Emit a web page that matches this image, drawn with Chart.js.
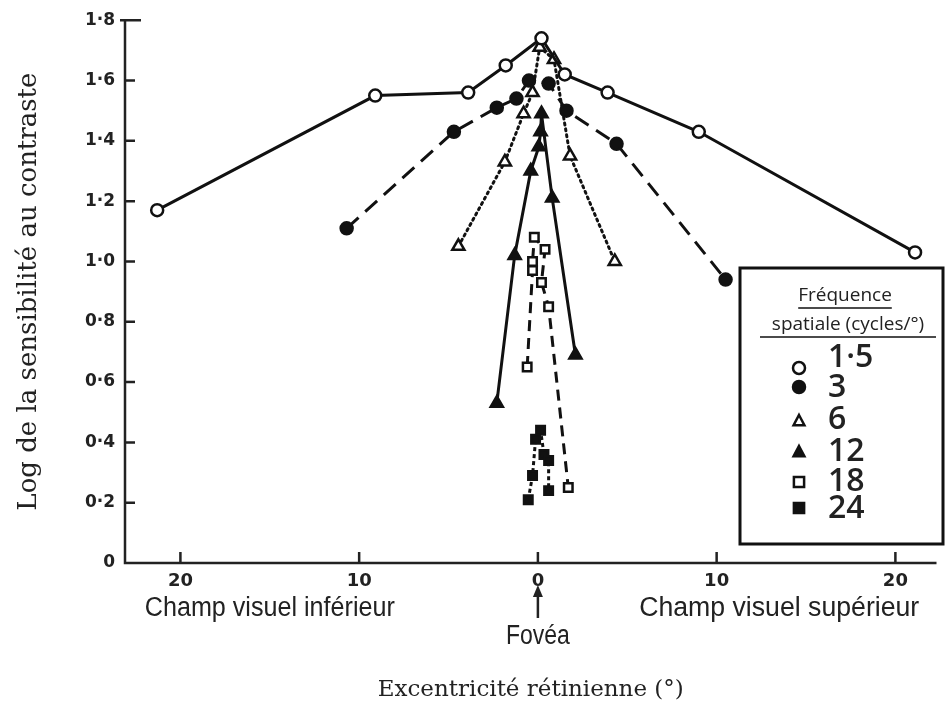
<!DOCTYPE html>
<html>
<head>
<meta charset="utf-8">
<script src="https://cdn.jsdelivr.net/npm/chart.js@4/dist/chart.umd.min.js"></script>
<style>
  html, body { margin: 0; background: #fff; }
  #wrap { width: 946px; height: 715px; }
</style>
</head>
<body>
<div id="wrap"><canvas id="graphe" width="946" height="715"></canvas></div>
<script>
// fréquences spatiales (cycles/°)
const frequences = ['1·5', '3', '6', '12', '18', '24'];
const xTicks = [-20, -10, 0, 10, 20];
const yTicks = [0, 0.2, 0.4, 0.6, 0.8, 1.0, 1.2, 1.4, 1.6, 1.8];

// excentricité (°) / log sensibilité, par fréquence
const f15x = [-21.3, -9.1, -3.9, -1.8, 0.2, 1.5, 3.9, 9.0, 21.1];
const f15y = [1.17, 1.55, 1.56, 1.65, 1.74, 1.62, 1.56, 1.43, 1.03];
const f3x = [-10.7, -4.7, -2.3, -1.2, -0.5, 0.6, 1.6, 4.4, 10.5];
const f3y = [1.11, 1.43, 1.51, 1.54, 1.60, 1.59, 1.50, 1.39, 0.94];
const f6x = [-4.45, -1.85, -0.8, -0.3, 0.1, 0.9, 1.8, 4.3];
const f6y = [1.05, 1.33, 1.49, 1.56, 1.71, 1.67, 1.35, 1.00];
const f12x = [-2.3, -1.3, -0.4, 0.05, 0.15, 0.2, 0.8, 2.1];
const f12y = [0.53, 1.02, 1.30, 1.38, 1.43, 1.49, 1.21, 0.69];
const f18x = [-0.6, -0.3, -0.3, -0.2, 0.4, 0.2, 0.6, 1.7];
const f18y = [0.65, 0.97, 1.00, 1.08, 1.04, 0.93, 0.85, 0.25];
const f24x = [-0.54, -0.3, -0.13, 0.15, 0.34, 0.6, 0.6];
const f24y = [0.21, 0.29, 0.41, 0.44, 0.36, 0.34, 0.24];

const pts = (xs, ys) => xs.map((x, i) => ({x: x, y: ys[i]}));

// style de chaque courbe : symbole, plein/vide, tirets
const styles = [
    {pt: 'circle', fill: false, dash: [], r: 6},
    {pt: 'circle', fill: true, dash: [16, 9], r: 6},
    {pt: 'triangle', fill: false, dash: [2, 4], r: 7},
    {pt: 'triangle', fill: true, dash: [], r: 7},
    {pt: 'rect', fill: false, dash: [11, 7], r: 6},
    {pt: 'rect', fill: true, dash: [4, 3], r: 6}
];
const series = [pts(f15x, f15y), pts(f3x, f3y), pts(f6x, f6y), pts(f12x, f12y), pts(f18x, f18y), pts(f24x, f24y)];

const datasets = series.map((data, i) => ({
    label: frequences[i],
    data: data,
    showLine: true,
    borderColor: '#111',
    borderWidth: 3,
    borderDash: styles[i].dash,
    borderCapStyle: styles[i].dash.length && styles[i].dash[0] < 4 ? 'round' : 'butt',
    pointStyle: styles[i].pt,
    pointRadius: styles[i].r,
    pointBorderWidth: 2.5,
    pointBorderColor: '#111',
    pointBackgroundColor: styles[i].fill ? '#111' : '#fff',
    clip: false
}));

function dessinePoint(ctx, style, x, y, r) {
    ctx.save();
    ctx.lineWidth = 2.5;
    ctx.strokeStyle = '#111';
    ctx.fillStyle = style.fill ? '#111' : '#fff';
    ctx.setLineDash([]);
    ctx.beginPath();
    if (style.pt === 'circle') {
        ctx.arc(x, y, r, 0, Math.PI * 2);
    } else if (style.pt === 'triangle') {
        ctx.moveTo(x, y - r);
        ctx.lineTo(x + r * 0.9, y + r * 0.7);
        ctx.lineTo(x - r * 0.9, y + r * 0.7);
        ctx.closePath();
    } else {
        ctx.rect(x - r * 0.85, y - r * 0.85, r * 1.7, r * 1.7);
    }
    ctx.fill();
    ctx.stroke();
    ctx.restore();
}

// axes avec graduations vers l'intérieur
const axesPlugin = {
    id: 'axes',
    beforeDatasetsDraw(chart) {
        const ctx = chart.ctx;
        const xs = chart.scales.x, ys = chart.scales.y;
        const x0 = xs.left, y0 = ys.getPixelForValue(0);
        ctx.save();
        ctx.strokeStyle = '#222';
        ctx.lineWidth = 2.5;
        ctx.beginPath();
        ctx.moveTo(x0, ys.getPixelForValue(1.8));
        ctx.lineTo(x0, y0);
        ctx.lineTo(xs.right, y0);
        yTicks.forEach(v => {
            const py = ys.getPixelForValue(v);
            if (v === 0) return;
            ctx.moveTo(v === 1.8 ? x0 - 5 : x0, py);
            ctx.lineTo(v === 1.8 ? x0 + 16 : x0 + 10, py);
        });
        xTicks.forEach(v => {
            const px = xs.getPixelForValue(v);
            ctx.moveTo(px, y0);
            ctx.lineTo(px, y0 - 11);
        });
        ctx.stroke();
        ctx.restore();
    },
    afterDraw(chart) {
        const ctx = chart.ctx;
        const xs = chart.scales.x;
        ctx.save();
        ctx.fillStyle = '#222';
        ctx.textBaseline = 'middle';
        ctx.textAlign = 'center';
        ctx.font = '27px "Liberation Sans", Arial, sans-serif';
        ctx.fillText('Champ visuel inférieur', xs.getPixelForValue(-15.0), 609, 250);
        ctx.fillText('Champ visuel supérieur', xs.getPixelForValue(13.5), 609, 280);
        ctx.fillText('Fovéa', xs.getPixelForValue(0), 637, 64);
        // flèche fovéa
        const fx = xs.getPixelForValue(0);
        ctx.strokeStyle = '#222';
        ctx.lineWidth = 2.5;
        ctx.beginPath();
        ctx.moveTo(fx, 618);
        ctx.lineTo(fx, 592);
        ctx.stroke();
        ctx.beginPath();
        ctx.moveTo(fx, 585);
        ctx.lineTo(fx - 5, 597);
        ctx.lineTo(fx + 5, 597);
        ctx.closePath();
        ctx.fill();

        // légende
        const bx = 740, by = 268, bw = 203, bh = 276;
        ctx.fillStyle = '#fff';
        ctx.fillRect(bx, by, bw, bh);
        ctx.lineWidth = 3;
        ctx.strokeStyle = '#111';
        ctx.strokeRect(bx, by, bw, bh);
        ctx.fillStyle = '#222';
        ctx.font = '19px "Open Sans", sans-serif';
        ctx.textAlign = 'center';
        ctx.fillText('Fréquence', 845, 296);
        ctx.fillText('spatiale (cycles/°)', 848, 325, 176);
        ctx.lineWidth = 1.5;
        ctx.beginPath();
        let w1 = ctx.measureText('Fréquence').width;
        ctx.moveTo(845 - w1 / 2, 308); ctx.lineTo(845 + w1 / 2, 308);
        ctx.moveTo(760, 337); ctx.lineTo(936, 337);
        ctx.stroke();
        const rowsY = [357, 387, 419, 451, 481, 508];
        const symY = [368, 387, 421, 452, 482, 508];
        ctx.textAlign = 'left';
        ctx.font = '600 32px "Open Sans", sans-serif';
        frequences.forEach((f, i) => {
            dessinePoint(ctx, styles[i], 799, symY[i], 6);
            ctx.fillStyle = '#222';
            ctx.fillText(f, 828, rowsY[i] + 1);
        });
        ctx.restore();
    }
};

const config = {
    type: 'scatter',
    data: {datasets: datasets},
    options: {
        responsive: false,
        animation: false,
        devicePixelRatio: 1,
        layout: {padding: {top: 20, right: 8, bottom: 0, left: 0}},
        plugins: {
            legend: {display: false},
            tooltip: {enabled: false}
        },
        scales: {
            x: {
                type: 'linear',
                min: -23.1,
                max: 22.3,
                afterBuildTicks: s => { s.ticks = xTicks.map(v => ({value: v})); },
                afterFit: s => { s.height = 152; },
                grid: {display: false, drawTicks: false, tickLength: 0},
                border: {display: false},
                ticks: {
                    padding: 8,
                    color: '#222',
                    font: {family: '"DejaVu Sans", sans-serif', size: 18, weight: 'bold'},
                    callback: v => String(Math.abs(v))
                },
                title: {
                    display: true,
                    text: 'Excentricité rétinienne (°)',
                    color: '#222',
                    font: {family: '"DejaVu Serif", serif', size: 23},
                    padding: {bottom: 11}
                }
            },
            y: {
                min: 0,
                max: 1.8,
                afterBuildTicks: s => { s.ticks = yTicks.map(v => ({value: v})); },
                afterFit: s => { s.width = 125; },
                grid: {display: false, drawTicks: false, tickLength: 0},
                border: {display: false},
                ticks: {
                    padding: 10,
                    color: '#222',
                    font: {family: '"DejaVu Sans", sans-serif', size: 17, weight: 'bold'},
                    callback: v => v === 0 ? '0' : v.toFixed(1).replace('.', '·')
                },
                title: {
                    display: true,
                    text: 'Log de la sensibilité au contraste',
                    color: '#222',
                    font: {family: '"DejaVu Serif", serif', size: 26},
                    padding: {top: 14}
                }
            }
        }
    },
    plugins: [axesPlugin]
};

const graphe = new Chart(document.getElementById('graphe').getContext('2d'), config);
</script>
</body>
</html>
